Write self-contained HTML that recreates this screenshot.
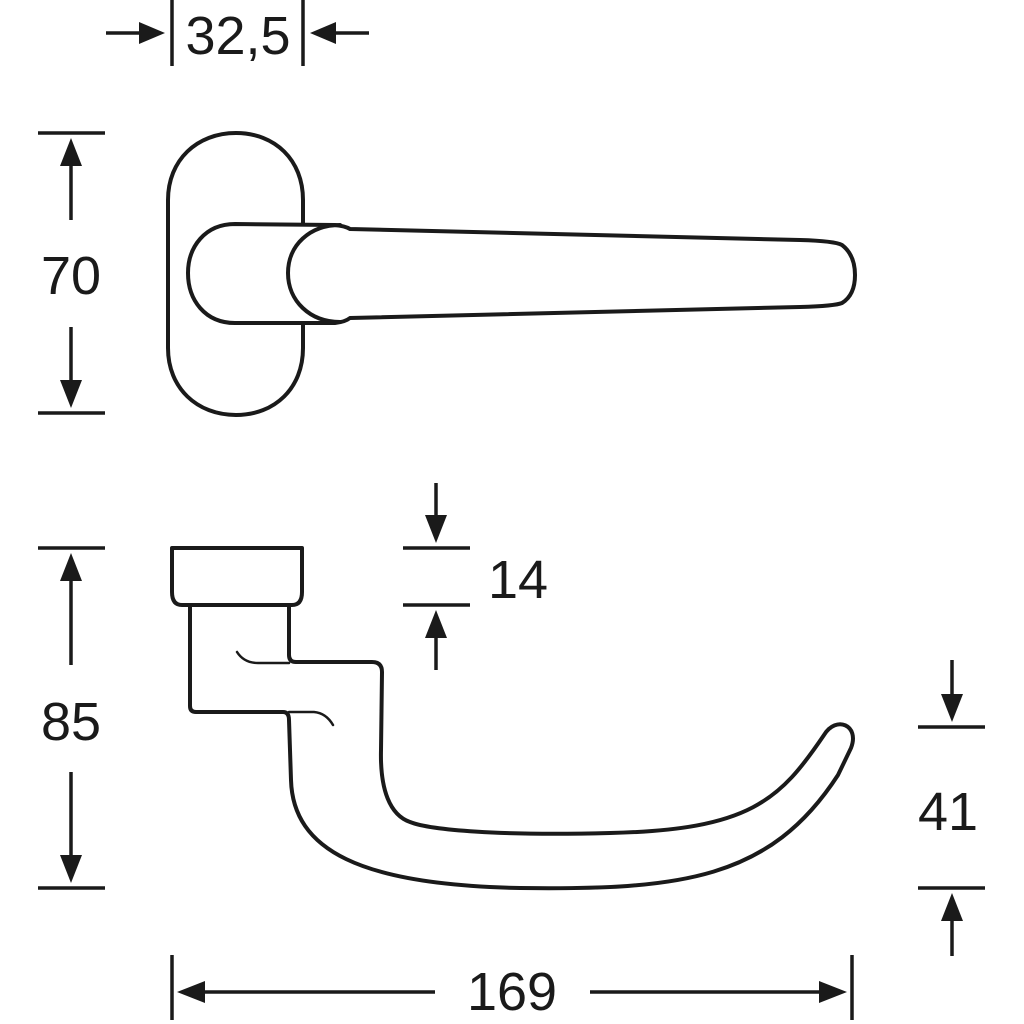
<!DOCTYPE html>
<html><head><meta charset="utf-8"><style>
html,body{margin:0;padding:0;background:#fff;}
svg{display:block;}
text{font-family:"Liberation Sans",Arial,sans-serif;fill:#1a1a1a;}
</style></head><body>
<svg width="1024" height="1024" viewBox="0 0 1024 1024" xmlns="http://www.w3.org/2000/svg">
<g stroke="#1a1a1a" stroke-width="4" fill="none" stroke-linecap="round" stroke-linejoin="round">
<path d="M303 224 V200 C303 160 275 133 236 133 C197 133 168 160 168 200 V348 C168 388 197 415 236 415 C275 415 303 388 303 348 V323"/>
<path d="M235 224 L335 225 Q345 226 350 229 L800 240 Q835 241 842 245 Q855 255 855 275 Q855 295 842 303 Q835 306 800 307 L350 318 Q345 322 335 323 L235 323 C205 323 188 300 188 273 C188 247 205 224 235 224 Z"/>
<path d="M340 225 C310 225 288 245 288 273 C288 301 310 322 340 322"/>
<path d="M172 548 H302 V592 Q302 605 292 605 H182 Q172 605 172 592 Z"/>
<path d="M190 605 V706 Q190 712 196 712 H283 Q289 712 289 720 L291 780 C293 850 360 885 520 888 C680 890 770 880 838 775 L851 748 C860 725 836 715 824 735 C780 800 750 830 610 833 C500 836 430 830 410 822 C390 815 380 790 381 750 L382 672 Q382 662 372 662 H296 Q289 662 289 655 V605"/>
<path d="M237 652 Q244 663 258 663 H289" stroke-width="2.5"/>
<path d="M289 712 H314 Q326 713 333 725" stroke-width="2.5"/>
</g>
<g stroke="#1a1a1a" stroke-width="3.5" fill="none">
<line x1="172" y1="0" x2="172" y2="66"/><line x1="303" y1="0" x2="303" y2="66"/>
<line x1="106" y1="33" x2="145" y2="33"/><line x1="369" y1="33" x2="330" y2="33"/>
<line x1="38" y1="133" x2="105" y2="133"/><line x1="38" y1="413" x2="105" y2="413"/>
<line x1="71" y1="220" x2="71" y2="160"/><line x1="71" y1="327" x2="71" y2="388"/>
<line x1="38" y1="548" x2="105" y2="548"/><line x1="38" y1="888" x2="105" y2="888"/>
<line x1="71" y1="665" x2="71" y2="575"/><line x1="71" y1="772" x2="71" y2="862"/>
<line x1="403" y1="548" x2="470" y2="548"/><line x1="403" y1="605" x2="470" y2="605"/>
<line x1="436" y1="483" x2="436" y2="520"/><line x1="436" y1="670" x2="436" y2="632"/>
<line x1="918" y1="727" x2="985" y2="727"/><line x1="918" y1="888" x2="985" y2="888"/>
<line x1="952" y1="660" x2="952" y2="700"/><line x1="952" y1="956" x2="952" y2="915"/>
<line x1="172" y1="955" x2="172" y2="1020"/><line x1="852" y1="955" x2="852" y2="1020"/>
<line x1="435" y1="992" x2="200" y2="992"/><line x1="590" y1="992" x2="825" y2="992"/>
</g>
<g fill="#1a1a1a">
<polygon points="165,33 139,22 139,44"/>
<polygon points="310,33 336,22 336,44"/>
<polygon points="71,138 60,166 82,166"/>
<polygon points="71,408 60,380 82,380"/>
<polygon points="71,553 60,581 82,581"/>
<polygon points="71,883 60,855 82,855"/>
<polygon points="436,543 425,515 447,515"/>
<polygon points="436,610 425,638 447,638"/>
<polygon points="952,722 941,694 963,694"/>
<polygon points="952,893 941,921 963,921"/>
<polygon points="177,992 205,981 205,1003"/>
<polygon points="847,992 819,981 819,1003"/>
</g>
<g font-size="54">
<text x="238" y="54" text-anchor="middle">32,5</text>
<text x="71" y="294" text-anchor="middle">70</text>
<text x="71" y="740" text-anchor="middle">85</text>
<text x="518" y="598" text-anchor="middle">14</text>
<text x="948" y="830" text-anchor="middle">41</text>
<text x="512" y="1010" text-anchor="middle">169</text>
</g>
</svg>
</body></html>
